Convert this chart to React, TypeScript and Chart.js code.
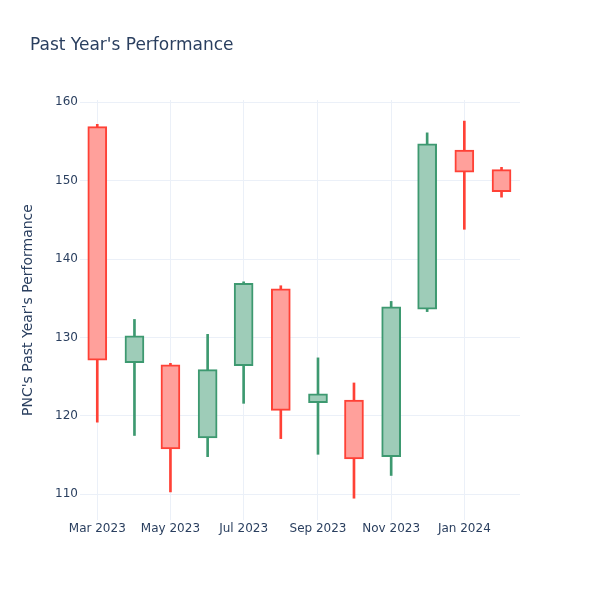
import React, { useEffect, useRef } from "react";
import { Chart, registerables } from "chart.js";

Chart.register(...registerables);

const dates = [
  "2023-03-01", "2023-04-01", "2023-05-01", "2023-06-01", "2023-07-01", "2023-08-01",
  "2023-09-01", "2023-10-01", "2023-11-01", "2023-12-01", "2024-01-01", "2024-02-01",
];
const opens = [156.9, 126.8, 126.5, 117.2, 126.4, 136.2, 121.7, 122.0, 114.8, 133.6, 153.9, 151.4];
const highs = [157.2, 132.3, 126.7, 130.4, 137.1, 136.6, 127.4, 124.2, 134.6, 156.1, 157.6, 151.7];
const lows = [119.2, 117.5, 110.3, 114.8, 121.6, 117.1, 115.1, 109.5, 112.4, 133.3, 143.8, 147.9];
const closes = [127.1, 130.2, 115.8, 125.9, 136.9, 120.7, 122.8, 114.5, 133.9, 154.7, 151.1, 148.6];

const xTickDates = ["2023-03-01", "2023-05-01", "2023-07-01", "2023-09-01", "2023-11-01", "2024-01-01"];
const xTickLabels = ["Mar 2023", "May 2023", "Jul 2023", "Sep 2023", "Nov 2023", "Jan 2024"];
const yTicks = [110, 120, 130, 140, 150, 160];

const TITLE = "Past Year's Performance";
const Y_TITLE = "PNC's Past Year's Performance";

const INC_LINE = "#3D9970";
const DEC_LINE = "#FF4136";
const INC_FILL = "rgb(158,204,184)";
const DEC_FILL = "rgb(255,160,155)";
const TEXT = "#2a3f5f";
const GRID = "#ebf0f8";
const FONT = '"DejaVu Sans", sans-serif';

const DAY = 86400000;
const day = (s: string) => (Date.parse(s) - Date.parse(dates[0])) / DAY;

export default function App() {
  const ref = useRef<HTMLCanvasElement | null>(null);

  useEffect(() => {
    if (!ref.current) return;
    const up = dates.map((_, i) => closes[i] >= opens[i]);
    const lineColors = up.map((u) => (u ? INC_LINE : DEC_LINE));
    const fillColors = up.map((u) => (u ? INC_FILL : DEC_FILL));

    const titlePlugin = {
      id: "plotTitle",
      afterDraw(chart: any) {
        const ctx = chart.ctx;
        ctx.save();
        ctx.font = `17px ${FONT}`;
        ctx.fillStyle = TEXT;
        ctx.textAlign = "left";
        ctx.textBaseline = "alphabetic";
        ctx.fillText(TITLE, 30, 50);
        ctx.restore();
      },
    };

    const chart = new Chart(ref.current, {
      type: "bar",
      data: {
        datasets: [
          {
            label: "body",
            order: 0,
            grouped: false,
            data: dates.map((d, i) => ({ x: day(d), y: [opens[i], closes[i]] })) as any,
            backgroundColor: fillColors,
            borderColor: lineColors,
            borderWidth: 2,
            borderSkipped: false,
            barThickness: 19,
          } as any,
          {
            label: "wick",
            order: 1,
            grouped: false,
            data: dates.map((d, i) => ({ x: day(d), y: [lows[i], highs[i]] })) as any,
            backgroundColor: lineColors,
            borderWidth: 0,
            barThickness: 2,
          } as any,
        ],
      },
      options: {
        animation: false,
        responsive: false,
        layout: { padding: { top: 100, right: 80, left: 0, bottom: 0 } },
        plugins: {
          legend: { display: false },
          tooltip: { enabled: false },
          title: { display: false },
        },
        scales: {
          x: {
            type: "linear",
            offset: false,
            min: day("2023-03-01") - 14.4,
            max: day("2024-02-01") + 15.4,
            afterBuildTicks: (scale: any) => {
              scale.ticks = xTickDates.map((d) => ({ value: day(d) }));
            },
            afterFit: (scale: any) => {
              scale.height = 80;
            },
            ticks: {
              autoSkip: false,
              maxRotation: 0,
              padding: 2,
              color: TEXT,
              font: { family: FONT, size: 12 },
              callback: (_v: any, i: number) => xTickLabels[i],
            },
            grid: { color: GRID, lineWidth: 1, drawTicks: false, offset: false },
            border: { display: false },
          },
          y: {
            type: "linear",
            min: 106.72,
            max: 160.29,
            afterBuildTicks: (scale: any) => {
              scale.ticks = yTicks.map((v) => ({ value: v }));
            },
            afterFit: (scale: any) => {
              scale.width = 80;
            },
            ticks: {
              padding: 2,
              color: TEXT,
              font: { family: FONT, size: 12 },
              callback: (v: any) => String(v),
            },
            grid: { color: GRID, lineWidth: 1, drawTicks: false },
            border: { display: false },
            title: {
              display: true,
              text: Y_TITLE,
              color: TEXT,
              font: { family: FONT, size: 14 },
              padding: { top: 19.6, bottom: 0 },
            },
          },
        },
      } as any,
      plugins: [titlePlugin],
    });
    return () => chart.destroy();
  }, []);

  return (
    <div style={{ position: "absolute", left: 0, top: 0, width: 600, height: 600, background: "#fff" }}>
      <canvas ref={ref} width={600} height={600} />
    </div>
  );
}
